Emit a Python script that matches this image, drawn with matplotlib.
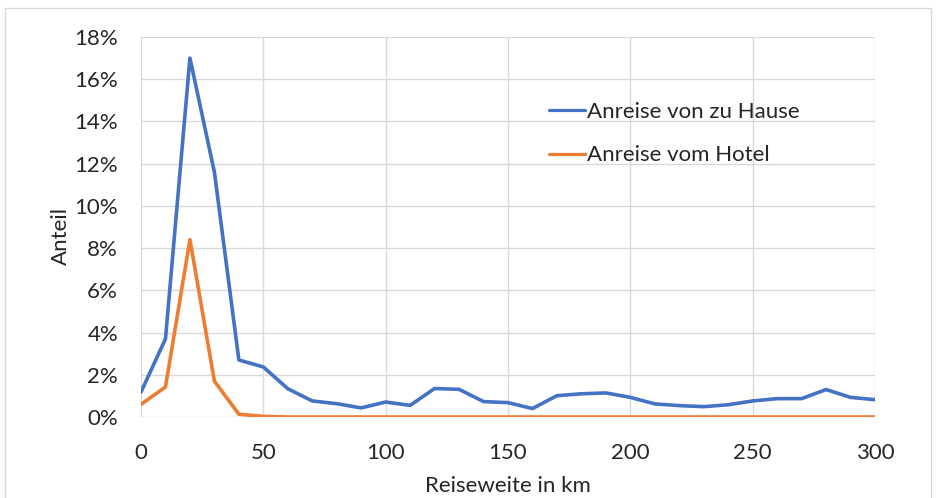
import matplotlib
matplotlib.use("Agg")
import matplotlib.pyplot as plt
from matplotlib.ticker import PercentFormatter, MultipleLocator
from matplotlib.patches import Rectangle

plt.rcParams['font.family'] = ['Lato', 'DejaVu Sans']

distance_km = list(range(0, 301, 10))
anreise_zu_hause = [1.18, 3.7, 17.0, 11.6, 2.7, 2.37, 1.34, 0.76, 0.63, 0.43,
                    0.71, 0.55, 1.35, 1.31, 0.73, 0.68, 0.40, 1.01, 1.10, 1.14,
                    0.93, 0.62, 0.54, 0.49, 0.58, 0.76, 0.87, 0.87, 1.30, 0.93,
                    0.82]
anreise_hotel = [0.6, 1.42, 8.4, 1.7, 0.13, 0.03] + [0.0] * 25

series_labels = ["Anreise von zu Hause", "Anreise vom Hotel"]
x_label = "Reiseweite in km"
y_label = "Anteil"

W, H = 939, 498
TXT = "#262626"
fig = plt.figure(figsize=(W / 100, H / 100), dpi=100)
fig.patches.append(Rectangle((5 / W, -0.1), (931 - 5) / W, 1.1 - 8 / H,
                             transform=fig.transFigure, fill=False,
                             edgecolor="#D9D9D9", linewidth=1.0))

L, R, T, B = 141, 875, 37, 417
ax = fig.add_axes([L / W, 1 - B / H, (R - L) / W, (B - T) / H])


def px_x(p):
    return (p - L) / (R - L)


def px_y(p):
    return (B - p) / (B - T)


ax.plot(distance_km, anreise_zu_hause, color="#4472C4", lw=2.6,
        solid_joinstyle="round", solid_capstyle="round", label=series_labels[0], zorder=3)
ax.plot(distance_km, anreise_hotel, color="#ED7D31", lw=2.6,
        solid_joinstyle="round", solid_capstyle="round", label=series_labels[1], zorder=3)

ax.set_xlim(0, 300)
ax.set_ylim(0, 18)
ax.xaxis.set_major_locator(MultipleLocator(50))
ax.yaxis.set_major_locator(MultipleLocator(2))
ax.yaxis.set_major_formatter(PercentFormatter(decimals=0))
ax.grid(True, color="#D9D9D9", lw=1.0, zorder=0)
for s in ax.spines.values():
    s.set_visible(False)
ax.tick_params(length=0, labelsize=16, colors=TXT)
ax.tick_params(axis="y", pad=16.5)
ax.tick_params(axis="x", pad=19)
ax.set_xlabel(x_label, fontsize=16, color=TXT, va="center")
ax.set_ylabel(y_label, fontsize=16, color=TXT, va="center")
ax.xaxis.set_label_coords(0.5, px_y(485.5))
ax.yaxis.set_label_coords(px_x(61), px_y(235.6))

# white legend background box
ax.add_patch(Rectangle((px_x(507), px_y(177)), px_x(838) - px_x(507), px_y(89) - px_y(177),
                       transform=ax.transAxes, facecolor="white", edgecolor="none", zorder=1))

leg = ax.legend(loc="upper left", bbox_to_anchor=(px_x(549), px_y(102)),
                frameon=False, fontsize=16, handlelength=1.6, handletextpad=0.1,
                borderpad=0, labelspacing=1.05, borderaxespad=0)
for line in leg.get_lines():
    line.set_linewidth(2.3)
for t in leg.get_texts():
    t.set_color(TXT)

fig.savefig("out.png", dpi=100)
